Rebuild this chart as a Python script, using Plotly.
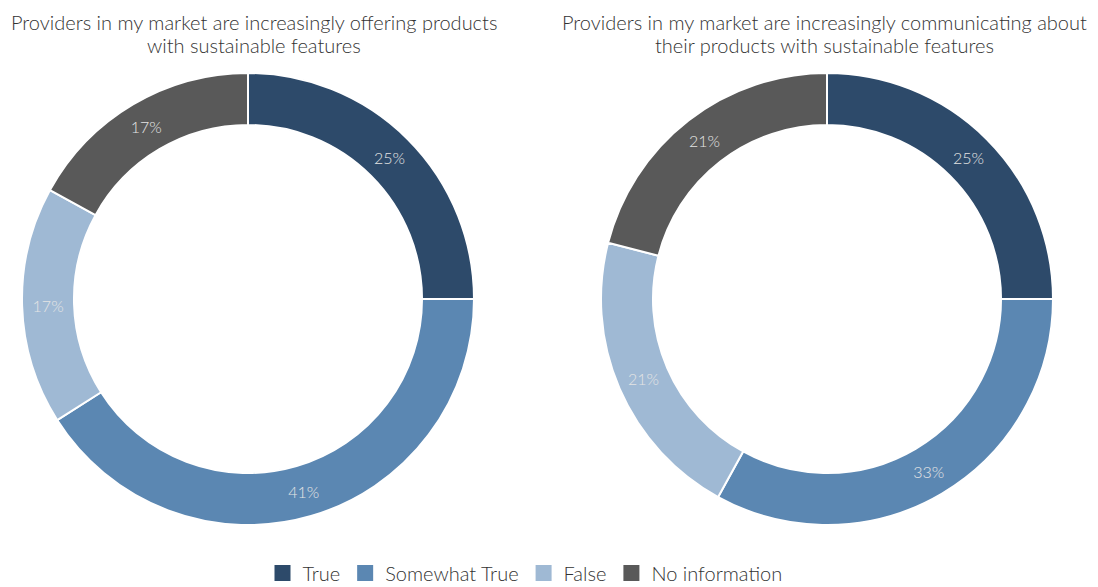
import plotly.graph_objects as go

categories = ["True", "Somewhat True", "False", "No information"]
offering_values = [25, 41, 17, 17]
communicating_values = [25, 33, 21, 21]
colors = ["#2d4a6a", "#5b87b2", "#9fb9d4", "#595959"]
title_lines = [
    ["Providers in my market are increasingly offering products",
     "with sustainable features"],
    ["Providers in my market are increasingly communicating about",
     "their products with sustainable features"],
]

OFF = 8  # default page body margin
W, H = 1098, 587
FONT = "Lato"

def px(sx):
    return (sx - OFF) / W

def py(sy):
    return 1 - (sy - OFF) / H

R = 226
CY = 299

fig = go.Figure()
for vals, cx in [(offering_values, 248), (communicating_values, 827)]:
    fig.add_trace(go.Pie(
        labels=categories,
        values=vals,
        hole=0.77,
        sort=False,
        direction="clockwise",
        rotation=0,
        marker=dict(colors=colors, line=dict(color="white", width=2)),
        texttemplate="%{value}%",
        textposition="inside",
        insidetextorientation="horizontal",
        textfont=dict(family=FONT, size=16, color="#e4e4e4", weight=300),
        hoverinfo="label+percent",
        showlegend=False,
        domain=dict(x=[px(cx - R), px(cx + R)], y=[py(CY + R), py(CY - R)]),
    ))

# legend entries (square markers)
for name, col in zip(categories, colors):
    fig.add_trace(go.Scatter(
        x=[None], y=[None], mode="markers", name=name,
        marker=dict(symbol="square", size=16, color=col),
        showlegend=True, hoverinfo="skip",
    ))

for lines, cx in zip(title_lines, [254, 824]):
    for line, sy in zip(lines, [9, 32]):
        fig.add_annotation(
            text=line, x=px(cx), y=py(sy), xref="paper", yref="paper",
            xanchor="center", yanchor="top", showarrow=False, borderpad=0,
            font=dict(family=FONT, size=20, color="#333333", weight=300),
        )

fig.update_layout(
    width=W, height=H,
    margin=dict(l=0, r=0, t=0, b=0),
    paper_bgcolor="white",
    plot_bgcolor="white",
    font=dict(family=FONT, color="#333333"),
    xaxis=dict(visible=False),
    yaxis=dict(visible=False),
    legend=dict(
        orientation="h", x=px(525), xanchor="center", y=py(573), yanchor="middle",
        font=dict(family=FONT, size=20, color="#333333", weight=300),
        traceorder="normal", itemsizing="trace",
    ),
)

fig.write_html("out.html")
